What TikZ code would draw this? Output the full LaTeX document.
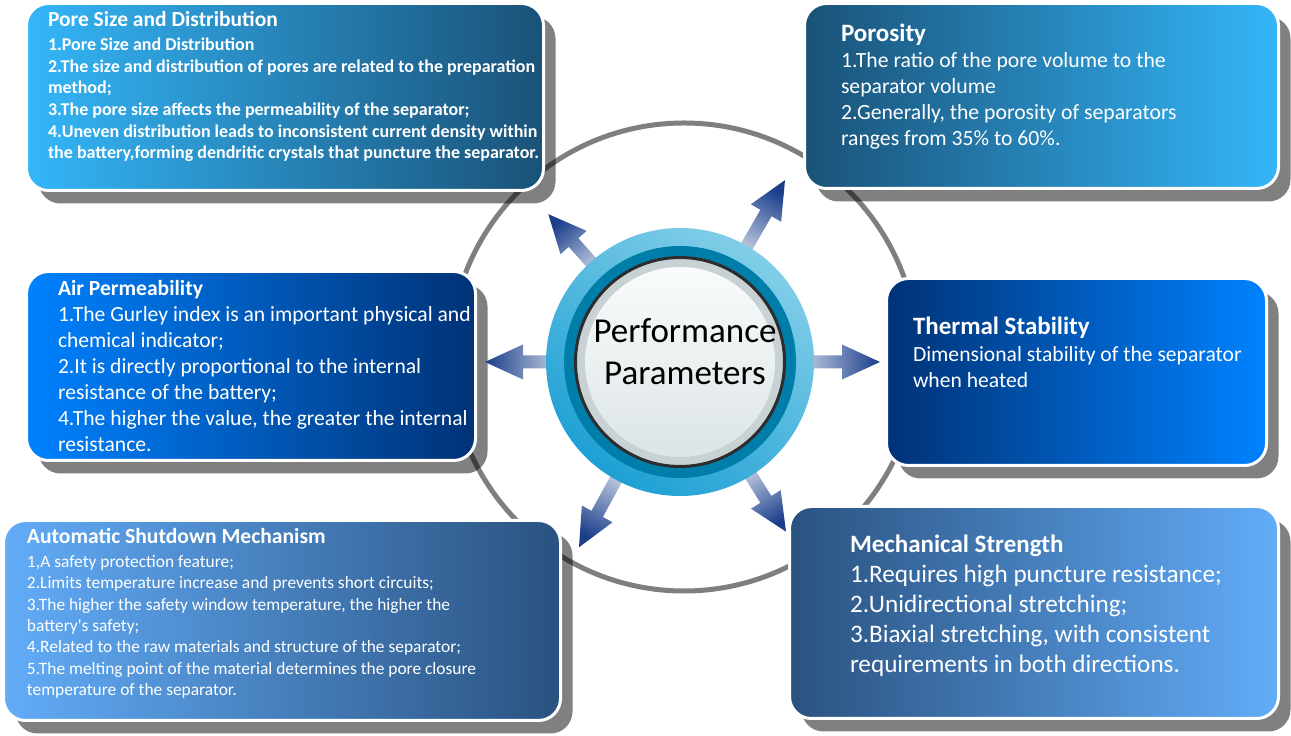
\documentclass[tikz,border=0pt]{standalone}
\usepackage{fontspec}
\setmainfont{Carlito}[Ligatures=TeXOff]
\usetikzlibrary{calc,backgrounds}
\definecolor{poreL}{RGB}{52,182,248}
\definecolor{poreR}{RGB}{26,82,120}
\definecolor{airL}{RGB}{0,130,255}
\definecolor{airR}{RGB}{0,50,118}
\definecolor{autoL}{RGB}{98,172,248}
\definecolor{autoR}{RGB}{42,82,128}
\definecolor{shadowgray}{RGB}{128,128,128}
\definecolor{arrowlight}{RGB}{200,208,228}
\definecolor{arrowdark}{RGB}{25,62,138}
\definecolor{ringlight}{RGB}{130,206,232}
\definecolor{ringdark}{RGB}{30,160,212}
\definecolor{ringteal}{RGB}{0,126,170}
\definecolor{discrim}{RGB}{200,209,212}
\definecolor{disctop}{RGB}{250,252,252}
\definecolor{discbot}{RGB}{220,228,230}
\newcommand\bodytext[3]{\parbox[t]{700pt}{\fontsize{#1}{#2}\selectfont #3}}
\newcommand\perfarrow[4]{%
  \pgfmathsetmacro\arrang{#2-90}%
  \pgfmathsetmacro\arrpa{#2+90}%
  \pgfmathsetmacro\arrpb{#2-90}%
  \pgfmathsetmacro\arrhb{#4-38}%
  \coordinate (#1) at ($(C)+(#2:#4)$);
  \shade[shading=axis, bottom color=arrowlight, top color=arrowdark, shading angle=\arrang]
    ($(C)+(#2:#3)+(\arrpa:6.5)$) -- ($(C)+(#2:\arrhb)+(\arrpa:6.5)$) --
    ($(C)+(#2:\arrhb)+(\arrpa:17.5)$) -- (#1) --
    ($(C)+(#2:\arrhb)+(\arrpb:17.5)$) -- ($(C)+(#2:\arrhb)+(\arrpb:6.5)$) --
    ($(C)+(#2:#3)+(\arrpb:6.5)$) -- cycle;
}
\begin{document}
\begin{tikzpicture}[x=1pt,y=1pt,
  box/.style={rectangle, rounded corners=22pt, draw=white, line width=3pt, inner sep=0pt, outer sep=0pt},
  shadowbox/.style={fill=shadowgray, rounded corners=22pt},
  ringline/.style={draw=black, draw opacity=0.5, line width=5pt},
  txt/.style={inner sep=0pt, outer sep=0pt, text=white, anchor=base west},
  ttl/.style={txt, font=\bfseries\fontsize{#1}{#1}\selectfont},
]
\useasboundingbox (0,0) rectangle (1291,736);

% boxes
\node[box, left color=poreL, right color=poreR, minimum width=517, minimum height=187] (pore) at (285,639) {};
\node[box, left color=poreR, right color=poreL, minimum width=474, minimum height=185] (poro) at (1041.5,640) {};
\node[box, left color=airL, right color=airR, minimum width=449, minimum height=189] (air) at (251,370) {};
\node[box, left color=airR, right color=airL, minimum width=380, minimum height=187] (therm) at (1076.5,364) {};
\node[box, left color=autoL, right color=autoR, minimum width=557, minimum height=200] (auto) at (282,115.5) {};
\node[box, left color=autoR, right color=autoL, minimum width=489, minimum height=212] (mech) at (1034,123.5) {};

% titles
\node[ttl=21.5] (poreT) at (48,709) {Pore Size and Distribution};
\node[ttl=25] (poroT) at (841,694.7) {Porosity};
\node[ttl=21.6] (airT) at (58,440) {Air Permeability};
\node[ttl=25] (thermT) at (913,401.7) {Thermal Stability};
\node[ttl=21.6] (autoT) at (27,192) {Automatic Shutdown Mechanism};
\node[ttl=25] (mechT) at (850,183.7) {Mechanical Strength};

% bodies
\node[txt, font=\bfseries] (poreB) at (48,685.3) {\bodytext{18}{21.6}{1.Pore Size and Distribution\\
2.The size and distribution of pores are related to the preparation\\
method;\\
3.The pore size affects the permeability of the separator;\\
4.Uneven distribution leads to inconsistent current density within\\
the battery,forming dendritic crystals that puncture the separator.}};
\node[txt] (poroB) at (841,668) {\bodytext{21.7}{26}{1.The ratio of the pore volume to the\\
separator volume\\
2.Generally, the porosity of separators\\
ranges from 35\% to 60\%.}};
\node[txt] (airB) at (58,414) {\bodytext{21.6}{26}{1.The Gurley index is an important physical and\\
chemical indicator;\\
2.It is directly proportional to the internal\\
resistance of the battery;\\
4.The higher the value, the greater the internal\\
resistance.}};
\node[txt] (thermB) at (913,374) {\bodytext{21.6}{26}{Dimensional stability of the separator\\
when heated}};
\node[txt] (autoB) at (27,168.6) {\bodytext{17.4}{21.33}{1,A safety protection feature;\\
2.Limits temperature increase and prevents short circuits;\\
3.The higher the safety window temperature, the higher the\\
battery's safety;\\
4.Related to the raw materials and structure of the separator;\\
5.The melting point of the material determines the pore closure\\
temperature of the separator.}};
\node[txt] (mechB) at (850,153.7) {\bodytext{25.2}{30}{1.Requires high puncture resistance;\\
2.Unidirectional stretching;\\
3.Biaxial stretching, with consistent\\
requirements in both directions.}};

% arrows
\coordinate (C) at (680,374);
\perfarrow{tipUL}{131.7}{120}{198}
\perfarrow{tipUR}{60}{120}{210}
\perfarrow{tipL}{180}{120}{195}
\perfarrow{tipR}{0}{120}{200}
\perfarrow{tipLL}{241.4}{120}{211}
\perfarrow{tipLR}{-58}{120}{200}

% central disc
\node[circle, minimum size=268, inner sep=0pt, outer sep=0pt, shading=axis, top color=ringlight, bottom color=ringdark, shading angle=-35] (outerring) at (C) {};
\node[circle, minimum size=232, inner sep=0pt, fill=ringteal] (tealring) at (C) {};
\node[circle, minimum size=209, inner sep=0pt, draw={rgb,255:red,45;green,45;blue,45}, line width=3pt, fill=discrim] (disc) at (C) {};
\node[circle, minimum size=190, inner sep=0pt, shading=axis, top color=disctop, bottom color=discbot] (discin) at (C) {};
\node[align=center, text=black, font=\fontsize{35}{42}\selectfont, inner sep=0pt] (ctext) at (685,384) {Performance\\Parameters};

\begin{scope}[on background layer]
  \fill[white] (0,0) rectangle (1291,736);
  \foreach \b in {pore,poro,air,therm,auto,mech}
    \fill[shadowbox] ($(\b.south west)+(12,-13)$) rectangle ($(\b.north east)+(12,-13)$);
  \draw[ringline] (684,379) circle[radius=234];
\end{scope}
\end{tikzpicture}
\end{document}
